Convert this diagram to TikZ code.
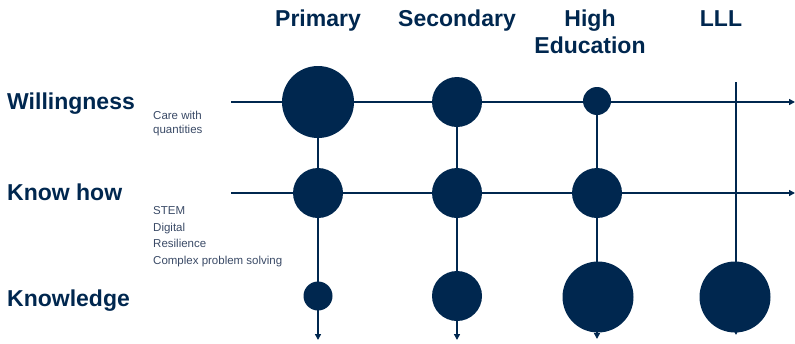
\documentclass[tikz,border=0pt]{standalone}
\usepackage{fontspec}
\setmainfont{Liberation Sans}
\usetikzlibrary{arrows.meta}
\definecolor{navy}{HTML}{00274F}
\definecolor{subtext}{HTML}{3A4A66}
\begin{document}
\begin{tikzpicture}[x=1pt,y=-1pt,
  head/.style={font=\fontsize{23}{26}\selectfont\bfseries, text=navy, inner sep=0pt, anchor=base, align=center},
  rowlab/.style={font=\fontsize{23}{26}\selectfont\bfseries, text=navy, inner sep=0pt, anchor=base west},
  sub/.style={font=\fontsize{11.5}{16.7}\selectfont, text=subtext, inner sep=0pt, anchor=base west},
  axis/.style={draw=navy, line width=1.8pt, -{Triangle[length=6pt,width=6pt]}},
  ball/.style={circle, fill=navy, inner sep=0pt, minimum size=#1}
]
\useasboundingbox (0,0) rectangle (795,343);
% headers
\node[head] (hp) at (318,26) {Primary};
\node[head] (hs) at (457,26) {Secondary};
\node[head] (hh) at (590,26) {High};
\node[head] (he) at (590,53) {Education};
\node[head] (hl) at (721,26) {LLL};
% row labels
\node[rowlab] (rw) at (7,109) {Willingness};
\node[rowlab] (rk) at (7,200) {Know how};
\node[rowlab] (rn) at (7,306) {Knowledge};
% sub labels
\node[sub] (s1) at (153,119) {Care with};
\node[sub] (s2) at (153,133) {quantities};
\node[sub] (s3) at (153,214) {STEM};
\node[sub] (s4) at (153,231) {Digital};
\node[sub] (s5) at (153,247) {Resilience};
\node[sub] (s6) at (153,264) {Complex problem solving};
% coordinates for axes
\coordinate (w0) at (231,102);
\coordinate (w1) at (795,102);
\coordinate (k0) at (231,193);
\coordinate (k1) at (795,193);
\coordinate (p0) at (318,102);
\coordinate (p1) at (318,340);
\coordinate (q0) at (457,102);
\coordinate (q1) at (457,340);
\coordinate (r0) at (597,102);
\coordinate (r1) at (597,339);
\coordinate (l0) at (736,82);
\coordinate (l1) at (736,335);
\draw[axis] (w0) -- (w1);
\draw[axis] (k0) -- (k1);
\draw[axis] (p0) -- (p1);
\draw[axis] (q0) -- (q1);
\draw[axis] (r0) -- (r1);
\draw[axis] (l0) -- (l1);
% circles
\node[ball=72pt] (pw) at (318,102) {};
\node[ball=50pt] (pk) at (318,193) {};
\node[ball=29pt] (pn) at (318,296) {};
\node[ball=50pt] (sw) at (457,102) {};
\node[ball=50pt] (sk) at (457,193) {};
\node[ball=50pt] (sn) at (457,296) {};
\node[ball=28pt] (hw) at (597,101) {};
\node[ball=50pt] (hk) at (597,193) {};
\node[ball=71pt] (hn) at (598,297) {};
\node[ball=71pt] (ln) at (735,297) {};
\end{tikzpicture}
\end{document}
